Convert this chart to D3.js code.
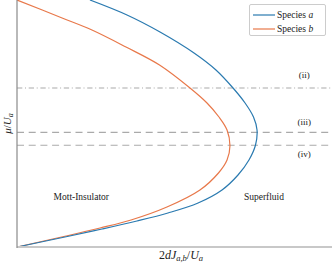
<!DOCTYPE html>
<html><head><meta charset="utf-8">
<script src="https://cdn.jsdelivr.net/npm/d3@7"></script>
<style>
html,body{margin:0;padding:0;background:#fff;}
svg{display:block;font-family:"Liberation Serif","DejaVu Serif",serif;}
</style></head>
<body><svg id="c" width="332" height="266"></svg>
<script>
// x = 2dJ_{a,b}/U_a, y = mu/U_a
const speciesA_x = [0, 0.0381, 0.0675, 0.0952, 0.1198, 0.1437, 0.1627, 0.1754, 0.1841, 0.1893, 0.1905, 0.1877, 0.1810, 0.1718, 0.1579, 0.1405, 0.1135, 0.0873, 0.0579];
const speciesA_y = [0, 0.0405, 0.0729, 0.1053, 0.1377, 0.1781, 0.2308, 0.2915, 0.3522, 0.4130, 0.4737, 0.5263, 0.5830, 0.6417, 0.7166, 0.7854, 0.8704, 0.9393, 1.0];
const speciesB_x = [0, 0.0389, 0.0659, 0.0905, 0.1190, 0.1452, 0.1599, 0.1667, 0.1690, 0.1667, 0.1603, 0.1508, 0.1373, 0.1131, 0.0865, 0.0595, 0.0353, 0];
const speciesB_y = [0, 0.0445, 0.0769, 0.1093, 0.1619, 0.2308, 0.2996, 0.3522, 0.4089, 0.4737, 0.5263, 0.5830, 0.6437, 0.7368, 0.8097, 0.8785, 0.9283, 1.0];
const refLevels = [0.644, 0.464, 0.412];
const refLabels = ["(ii)", "(iii)", "(iv)"];
const refDash = ["5.3,2.7,1,2.7", "7,4.7", "7,4.7"];
const seriesNames = ["Species ", "Species "];
const seriesSym = ["a", "b"];
const seriesColors = ["#2a7ab0", "#e8784a"];
const regionLabels = ["Mott-Insulator", "Superfluid"];

const svg = d3.select("#c");
const L = 17, R = 332, T = 0, B = 247;
const x = d3.scaleLinear().domain([0, 0.25]).range([L, R]);
const y = d3.scaleLinear().domain([0, 1]).range([B, T]);

// reference lines
refLevels.forEach((v, i) => {
  svg.append("line").attr("x1", L).attr("x2", R).attr("y1", y(v)).attr("y2", y(v))
    .attr("stroke", "#aaaaaa").attr("stroke-width", 1.1).attr("stroke-dasharray", refDash[i]);
});
const labelX = x(0.228);
const labelDy = [-9.5, -7.5, 11.5];
refLevels.forEach((v, i) => {
  svg.append("text").attr("x", labelX).attr("y", y(v) + labelDy[i]).attr("text-anchor", "middle")
    .attr("font-size", 9).attr("fill", "#222").text(refLabels[i]);
});

svg.append("clipPath").attr("id", "pc").append("rect")
  .attr("x", L).attr("y", T).attr("width", R - L).attr("height", B - T);

const line = d3.line().x(d => x(d[0])).y(d => y(d[1])).curve(d3.curveCatmullRom.alpha(0.5));
const dataA = speciesA_x.map((v, i) => [v, speciesA_y[i]]);
const dataB = speciesB_x.map((v, i) => [v, speciesB_y[i]]);
svg.append("path").attr("d", line(dataB)).attr("fill", "none").attr("stroke", seriesColors[1])
  .attr("stroke-width", 1.2).attr("clip-path", "url(#pc)");
svg.append("path").attr("d", line(dataA)).attr("fill", "none").attr("stroke", seriesColors[0])
  .attr("stroke-width", 1.2).attr("clip-path", "url(#pc)");

// axes
svg.append("line").attr("x1", L).attr("x2", R).attr("y1", B).attr("y2", B)
  .attr("stroke", "#c8c8c8").attr("stroke-width", 2);
svg.append("line").attr("x1", L).attr("x2", L).attr("y1", T).attr("y2", B + 1)
  .attr("stroke", "#8a8a8a").attr("stroke-width", 1.2);

// region labels
svg.append("text").attr("x", x(0.051)).attr("y", 200).attr("text-anchor", "middle")
  .attr("font-size", 9.5).attr("fill", "#222").text(regionLabels[0]);
svg.append("text").attr("x", x(0.196)).attr("y", 200).attr("text-anchor", "middle")
  .attr("font-size", 9.5).attr("fill", "#222").text(regionLabels[1]);

// axis labels
const xl = svg.append("text").attr("x", 181).attr("y", 259).attr("text-anchor", "middle")
  .attr("font-size", 12).attr("fill", "#222");
xl.append("tspan").text("2");
xl.append("tspan").attr("font-style", "italic").text("dJ");
xl.append("tspan").attr("font-style", "italic").attr("font-size", 8.5).attr("dy", 2).text("a,b");
xl.append("tspan").attr("dy", -2).text("/");
xl.append("tspan").attr("font-style", "italic").text("U");
xl.append("tspan").attr("font-style", "italic").attr("font-size", 8.5).attr("dy", 2).text("a");

const yl = svg.append("text").attr("transform", "translate(11," + ((T + B) / 2) + ") rotate(-90)")
  .attr("text-anchor", "middle").attr("font-size", 11).attr("fill", "#222");
yl.append("tspan").attr("font-style", "italic").text("μ");
yl.append("tspan").text("/");
yl.append("tspan").attr("font-style", "italic").text("U");
yl.append("tspan").attr("font-style", "italic").attr("font-size", 8).attr("dy", 2).text("a");

// legend
const lg = svg.append("g");
lg.append("rect").attr("x", 249.5).attr("y", 4.5).attr("width", 76).attr("height", 31).attr("rx", 1.5)
  .attr("fill", "#fff").attr("stroke", "#cccccc").attr("stroke-width", 1);
[0, 1].forEach(i => {
  const yy = 15 + i * 14;
  lg.append("line").attr("x1", 253).attr("x2", 275).attr("y1", yy).attr("y2", yy)
    .attr("stroke", seriesColors[i]).attr("stroke-width", 1.2);
  const t = lg.append("text").attr("x", 277).attr("y", yy + 3.3).attr("font-size", 9.5).attr("fill", "#222");
  t.append("tspan").text(seriesNames[i]);
  t.append("tspan").attr("font-style", "italic").text(seriesSym[i]);
});
</script></body></html>
